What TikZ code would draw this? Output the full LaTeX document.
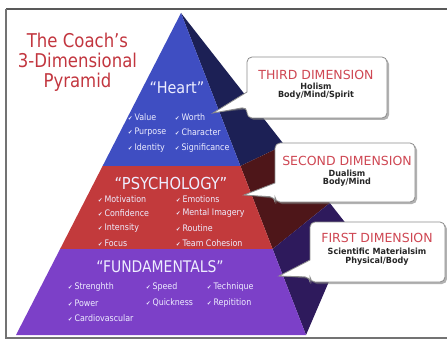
\documentclass[tikz,border=0pt]{standalone}
\usepackage{fontspec}
\setmainfont{DejaVu Sans}
\definecolor{fblue}{HTML}{3F4EC2}
\definecolor{fred}{HTML}{C23A3C}
\definecolor{fpurple}{HTML}{7C40C8}
\definecolor{snavy}{HTML}{1C2055}
\definecolor{smaroon}{HTML}{4E1619}
\definecolor{spurple}{HTML}{2E1A5C}
\definecolor{titlered}{HTML}{C2363F}
\definecolor{callred}{HTML}{CF4753}
\definecolor{itemcol}{HTML}{EEEEFF}
\definecolor{bodycol}{HTML}{262626}
\newcommand\chkm{{\fontsize{6}{6}\selectfont ✔}\hspace{2.2pt}}
\tikzset{
  itm/.style={anchor=west, inner sep=0pt, text=itemcol, xscale=0.88, font=\fontsize{9}{10}\selectfont},
  lvl/.style={inner sep=0pt, text=itemcol},
  calltitle/.style={inner sep=0pt, text=callred, font=\fontsize{12.5}{14}\selectfont},
  callbody/.style={inner sep=0pt, text=bodycol, xscale=0.95, font=\bfseries\fontsize{8.5}{9}\selectfont},
  callbox/.style={fill=white, draw=black!45, line width=0.8pt},
  callshadow/.style={fill=black!55, opacity=0.55},
}
\begin{document}
\begin{tikzpicture}[x=1pt,y=-1pt]
\useasboundingbox (0,0) rectangle (447,342);
% frame
\draw[black!65, line width=1.4pt] (6,9) -- (449,9);
\draw[black!55, line width=1.4pt] (6,9) -- (6,338) -- (449,338);

% pyramid coordinates
\coordinate (A) at (181,13);
\coordinate (BL) at (16,335);
\coordinate (BR) at (306,335);
\coordinate (BK) at (351,230);
\coordinate (L1) at (102.6,166);
\coordinate (R1) at (240.4,166);
\coordinate (L2) at (60.1,249);
\coordinate (R2) at (272.6,249);
\coordinate (K1) at (284.4,145);
\coordinate (K2) at (329.8,203);

% side faces
\fill[snavy] (A) -- (R1) -- (K1) -- cycle;
\fill[smaroon] (R1) -- (R2) -- (K2) -- (K1) -- cycle;
\fill[spurple] (R2) -- (BR) -- (BK) -- (K2) -- cycle;
% front faces
\fill[fblue] (A) -- (L1) -- (R1) -- cycle;
\fill[fred] (L1) -- (L2) -- (R2) -- (R1) -- cycle;
\fill[fpurple] (L2) -- (BL) -- (BR) -- (R2) -- cycle;

% title
\node[text=titlered, align=center, xscale=0.87, font=\fontsize{19}{20}\selectfont, inner sep=0pt] (title) at (77.5,62) {The Coach’s\\3-Dimensional\\Pyramid};

% Heart
\node[lvl, xscale=0.9, font=\fontsize{16}{18}\selectfont] (heart) at (177,88) {“Heart”};
\node[itm] (h1) at (128,117) {\chkm Value};
\node[itm] (h2) at (175,117) {\chkm Worth};
\node[itm] (h3) at (128,132) {\chkm Purpose};
\node[itm] (h4) at (175,132) {\chkm Character};
\node[itm] (h5) at (128,148) {\chkm Identity};
\node[itm] (h6) at (175,148) {\chkm Significance};

% Psychology
\node[lvl, xscale=0.89, font=\fontsize{16.5}{18}\selectfont] (psy) at (171,183) {“PSYCHOLOGY”};
\node[itm] (p1) at (98,199) {\chkm Motivation};
\node[itm] (p2) at (176,199) {\chkm Emotions};
\node[itm] (p3) at (98,213.5) {\chkm Confidence};
\node[itm] (p4) at (176,213.5) {\chkm Mental Imagery};
\node[itm] (p5) at (98,228.5) {\chkm Intensity};
\node[itm] (p6) at (176,228.5) {\chkm Routine};
\node[itm] (p7) at (98,243) {\chkm Focus};
\node[itm] (p8) at (176,243) {\chkm Team Cohesion};

% Fundamentals
\node[lvl, xscale=0.87, font=\fontsize{16}{18}\selectfont] (fund) at (160,267) {“FUNDAMENTALS”};
\node[itm] (f1) at (68,287) {\chkm Strenghth};
\node[itm] (f2) at (146,287) {\chkm Speed};
\node[itm] (f3) at (207,287) {\chkm Technique};
\node[itm] (f4) at (68,303) {\chkm Power};
\node[itm] (f5) at (146,303) {\chkm Quickness};
\node[itm] (f6) at (207,303) {\chkm Repitition};
\node[itm] (f7) at (68,318) {\chkm Cardiovascular};

% callout 1
\coordinate (t1) at (213,113);
\begin{scope}[shift={(2,2)}]
\fill[callshadow, rounded corners=5pt] (247,92) -- (247,57) -- (387,57) -- (387,118) -- (247,118) -- (247,107) [sharp corners] -- (t1) -- cycle;
\end{scope}
\path[callbox, rounded corners=5pt] (247,92) -- (247,57) -- (387,57) -- (387,118) -- (247,118) -- (247,107) [sharp corners] -- (t1) -- cycle;
\node[calltitle] (c1t) at (316,75) {THIRD DIMENSION};
\node[callbody] (c1a) at (316,86) {Holism};
\node[callbody] (c1b) at (316,95.5) {Body/Mind/Spirit};

% callout 2
\coordinate (t2) at (244,195);
\begin{scope}[shift={(2,2)}]
\fill[callshadow, rounded corners=5pt] (275,183) -- (275,143) -- (415,143) -- (415,202) -- (275,202) -- (275,197) [sharp corners] -- (t2) -- cycle;
\end{scope}
\path[callbox, rounded corners=5pt] (275,183) -- (275,143) -- (415,143) -- (415,202) -- (275,202) -- (275,197) [sharp corners] -- (t2) -- cycle;
\node[calltitle] (c2t) at (347,161) {SECOND DIMENSION};
\node[callbody] (c2a) at (347,173) {Dualism};
\node[callbody] (c2b) at (347,182.5) {Body/Mind};

% callout 3
\coordinate (t3) at (279,276);
\begin{scope}[shift={(2,2)}]
\fill[callshadow, rounded corners=5pt] (310,260) -- (310,222) -- (445,222) -- (445,282) -- (310,282) -- (310,277) [sharp corners] -- (t3) -- cycle;
\end{scope}
\path[callbox, rounded corners=5pt] (310,260) -- (310,222) -- (445,222) -- (445,282) -- (310,282) -- (310,277) [sharp corners] -- (t3) -- cycle;
\node[calltitle] (c3t) at (377,238) {FIRST DIMENSION};
\node[callbody] (c3a) at (377,251) {Scientific Materialsim};
\node[callbody] (c3b) at (377,261.5) {Physical/Body};
\end{tikzpicture}
\end{document}
